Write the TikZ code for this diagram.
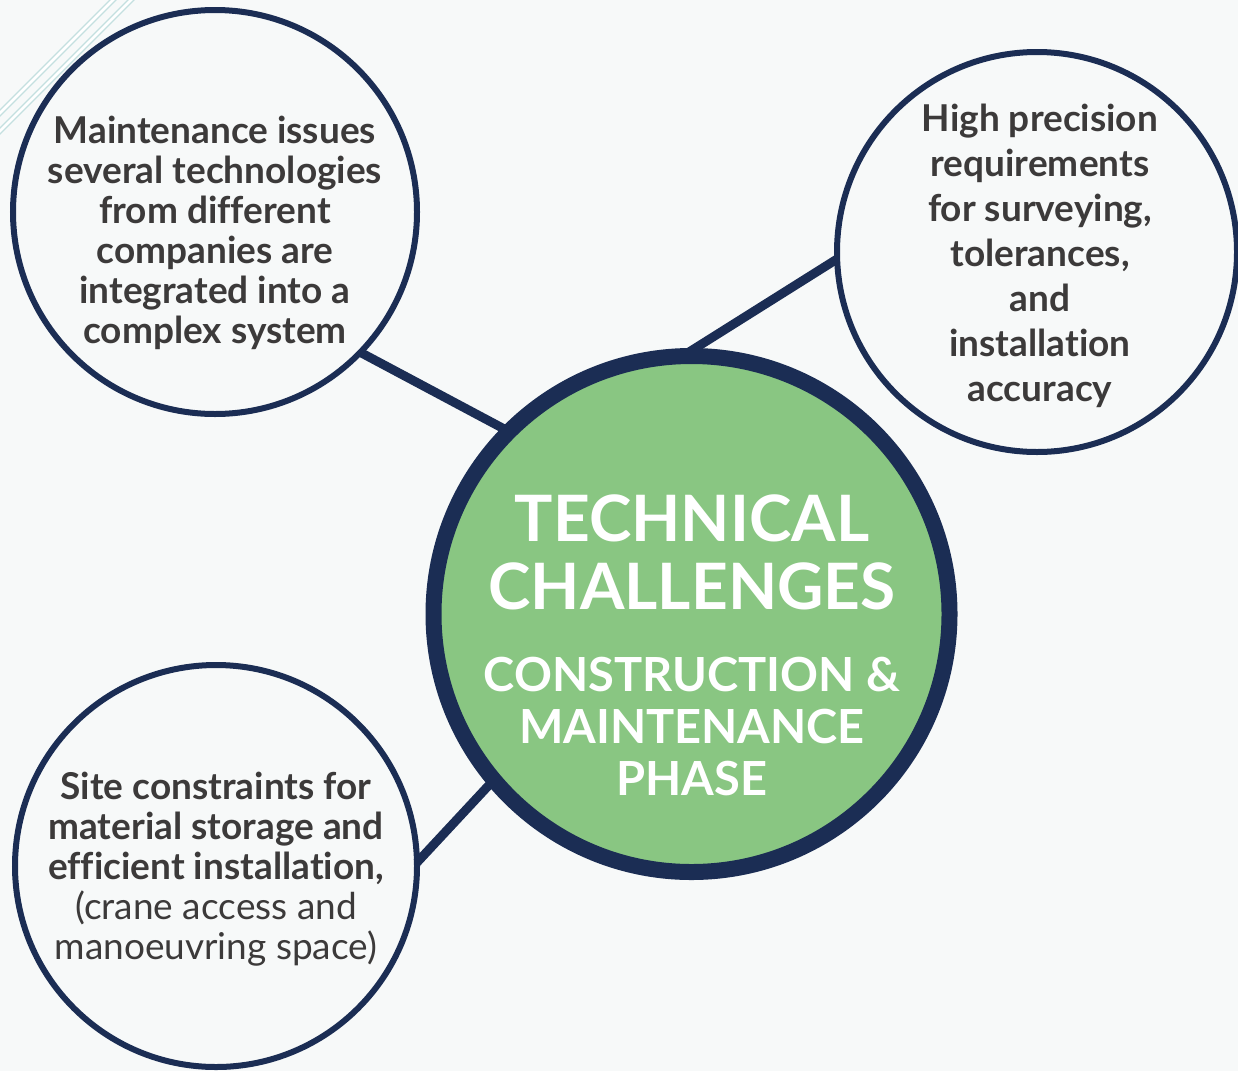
\documentclass[tikz,border=0pt]{standalone}
\usepackage{fontspec}
\setmainfont{Lato}[Ligatures=CommonOff]
\definecolor{navy}{RGB}{27,45,84}
\definecolor{leaf}{RGB}{137,198,130}
\definecolor{paper}{RGB}{247,249,249}
\definecolor{ink}{RGB}{60,58,58}
\definecolor{haze}{RGB}{196,224,224}
\tikzstyle{bubble}=[draw=navy,shape=circle,fill=paper,line width=6pt,inner sep=0pt,outer sep=0pt]
\tikzstyle{hub}=[draw=navy,shape=circle,fill=leaf,line width=16pt,inner sep=0pt,outer sep=0pt,minimum size=516pt]
\tikzstyle{spoke}=[draw=navy,line width=9pt]
\tikzstyle{bubbletext}=[text=ink,align=center,inner sep=0pt,font=\bfseries\fontsize{37}{40}\selectfont]
\tikzstyle{hubtext}=[text=white,align=center,inner sep=0pt]
\tikzstyle{streak}=[draw=haze,line width=1.5pt,double=white,double distance=2.5pt]

\begin{document}
\begin{tikzpicture}[x=1pt,y=-1pt]
\useasboundingbox (0,0) rectangle (1238,1071);
\fill[paper] (0,0) rectangle (1238,1071);

\draw[streak] (-10,123) -- (123,-10);
\draw[streak] (-10,141) -- (141,-10);

\node[bubble,minimum size=404pt] (maint) at (215,212) {};
\node[bubble,minimum size=400pt] (precision) at (1037,252) {};
\node[bubble,minimum size=402pt] (site) at (216,866) {};
\node[hub] (challenges) at (691.5,614) {};

\draw[spoke] (maint.-44) -- (challenges.135);
\draw[spoke] (precision.182) -- (challenges.92);
\draw[spoke] (site.1) -- (challenges.220);

\node[bubbletext] (maint-text) at (215,233) {Maintenance issues\\several technologies\\from different\\companies are\\integrated into a\\complex system};
\node[bubbletext,font=\bfseries\fontsize{37}{45}\selectfont] (precision-text) at (1040,256) {High precision\\requirements\\for surveying,\\tolerances,\\and\\installation\\accuracy};
\node[bubbletext] (site-text) at (216,869) {Site constraints for\\material storage and\\efficient installation,\\\mdseries(crane access and\\\mdseries manoeuvring space)};

\node[hubtext,font=\bfseries\fontsize{64}{68}\selectfont] (hub-title) at (692,552) {TECHNICAL\\CHALLENGES};
\node[hubtext,font=\bfseries\fontsize{47}{52}\selectfont] (hub-phase) at (692,726) {CONSTRUCTION \&\\MAINTENANCE\\PHASE};

\end{tikzpicture}
\end{document}
